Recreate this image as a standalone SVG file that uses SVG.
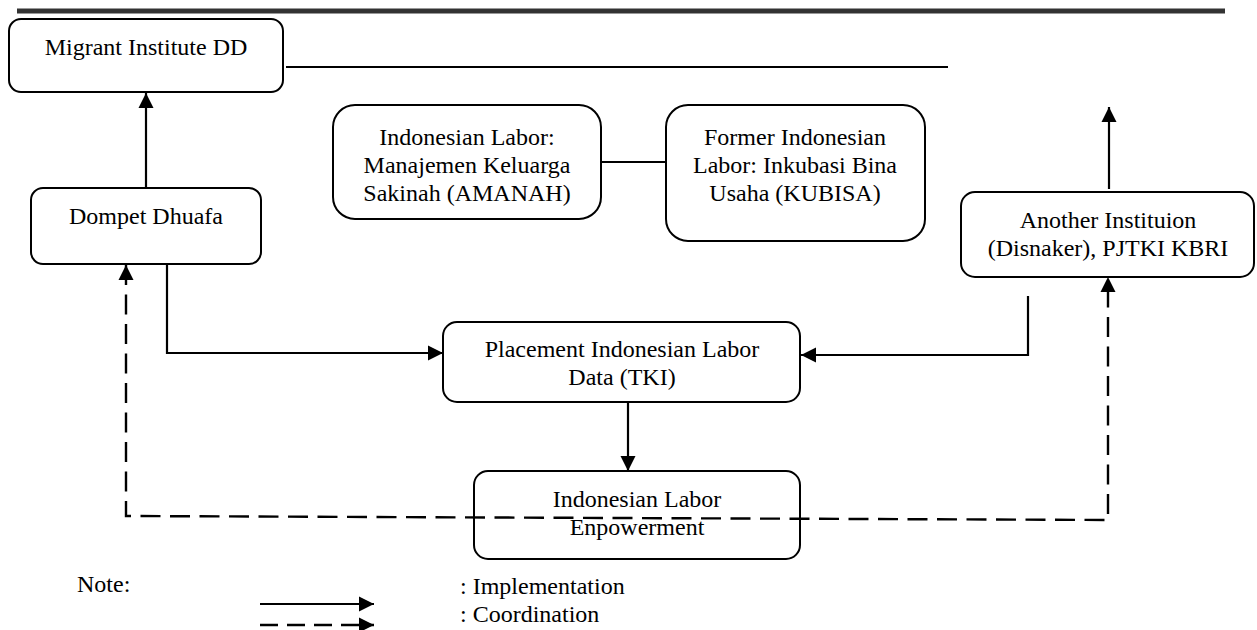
<svg xmlns="http://www.w3.org/2000/svg" width="1257" height="630" viewBox="0 0 1257 630">
<style>
.box{fill:#fff;stroke:#000;stroke-width:2}
.t{font-family:"Liberation Serif","Times New Roman",Times,serif;font-size:24px;fill:#000;text-anchor:middle}
.l{font-family:"Liberation Serif","Times New Roman",Times,serif;font-size:24px;fill:#000}
.c{fill:none;stroke:#000;stroke-width:2.2}
.d{fill:none;stroke:#000;stroke-width:2.4;stroke-dasharray:20 9.5}
</style>
<defs>
<marker id="ah" markerUnits="userSpaceOnUse" markerWidth="16" markerHeight="16" refX="15" refY="8" orient="auto-start-reverse" viewBox="0 0 16 16">
<path d="M0,0.5 L15,8 L0,15.5 z" fill="#000"/>
</marker>
</defs>
<rect x="17" y="8.5" width="1208" height="5" fill="#333"/>
<g id="migrant">
<rect class="box" x="9" y="19" width="274" height="73" rx="12"/>
<text class="t" x="146" y="55">Migrant Institute DD</text>
</g>
<g id="dompet">
<rect class="box" x="31" y="188" width="230" height="76" rx="12"/>
<text class="t" x="146" y="224">Dompet Dhuafa</text>
</g>
<g id="amanah">
<rect class="box" x="333" y="105" width="268" height="114" rx="22"/>
<text class="t" x="467" y="145">Indonesian Labor:</text>
<text class="t" x="467" y="173">Manajemen Keluarga</text>
<text class="t" x="467" y="201">Sakinah (AMANAH)</text>
</g>
<g id="kubisa">
<rect class="box" x="666" y="105" width="259" height="136" rx="22"/>
<text class="t" x="795" y="145">Former Indonesian</text>
<text class="t" x="795" y="173">Labor: Inkubasi Bina</text>
<text class="t" x="795" y="201">Usaha (KUBISA)</text>
</g>
<g id="another">
<rect class="box" x="961" y="192" width="293" height="85" rx="14"/>
<text class="t" x="1108" y="228">Another Instituion</text>
<text class="t" x="1108" y="256">(Disnaker), PJTKI KBRI</text>
</g>
<g id="placement">
<rect class="box" x="443" y="322" width="357" height="80" rx="14"/>
<text class="t" x="622" y="357">Placement Indonesian Labor</text>
<text class="t" x="622" y="385">Data (TKI)</text>
</g>
<g id="empowerment">
<rect class="box" x="474" y="471" width="326" height="88" rx="14"/>
<text class="t" x="637" y="507">Indonesian Labor</text>
<text class="t" x="637" y="535">Enpowerment</text>
</g>
<g id="connectors">
<line class="c" x1="286" y1="67" x2="948" y2="67"/>
<line class="c" x1="146" y1="188" x2="146" y2="93" marker-end="url(#ah)"/>
<polyline class="c" points="167,264 167,353 443,353" marker-end="url(#ah)"/>
<line class="c" x1="601" y1="162" x2="666" y2="162"/>
<line class="c" x1="1109" y1="189" x2="1109" y2="107" marker-end="url(#ah)"/>
<polyline class="c" points="1028,296 1028,355 801,355" marker-end="url(#ah)"/>
<line class="c" x1="628" y1="402" x2="628" y2="471" marker-end="url(#ah)"/>
<polyline class="d" points="126,265 126,516 1108,520 1108,277" marker-start="url(#ah)" marker-end="url(#ah)"/>
</g>
<g id="legend">
<text class="l" x="77" y="592">Note:</text>
<text class="l" x="460" y="594">: Implementation</text>
<text class="l" x="460" y="622">: Coordination</text>
<line class="c" x1="260" y1="604" x2="374" y2="604" marker-end="url(#ah)"/>
<line class="d" x1="260" y1="625" x2="374" y2="625" marker-end="url(#ah)" style="stroke-dasharray:18 9"/>
</g>
</svg>
